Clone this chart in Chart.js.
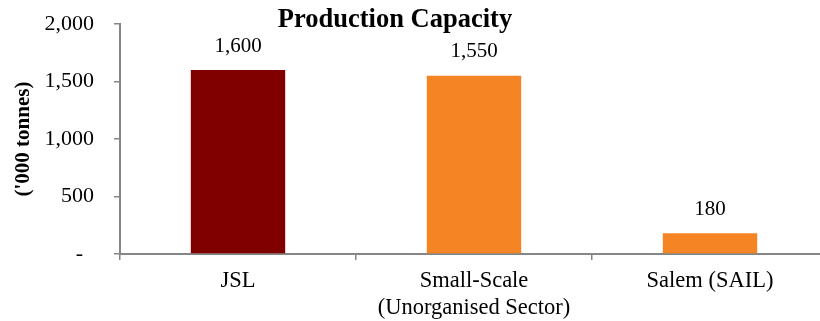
<!DOCTYPE html>
<html>
<head>
<meta charset="utf-8">
<script src="https://cdn.jsdelivr.net/npm/chart.js@4"></script>
<style>
  html, body { margin: 0; padding: 0; background: #fff; overflow: hidden; }
  #wrap { width: 830px; height: 321px; }
</style>
</head>
<body>
<div id="wrap"><canvas id="grafico" width="830" height="321"></canvas></div>
<script>
// Dados
const categorias = ['JSL', ['Small-Scale', '(Unorganised Sector)'], 'Salem (SAIL)'];
const capacidade = [1600, 1550, 180];
const coresBarras = ['#800000', '#F48424', '#F48424'];
const ticksY = [0, 500, 1000, 1500, 2000];

const FONTE = '"Liberation Serif", "DejaVu Serif", serif';
const CINZA = '#868686';

// Titulo desenhado por cima da area do grafico
const tituloPlugin = {
  id: 'tituloPlugin',
  afterDraw(chart) {
    const ctx = chart.ctx;
    ctx.save();
    ctx.font = 'bold 26.5px ' + FONTE;
    ctx.fillStyle = '#000';
    ctx.textAlign = 'center';
    ctx.textBaseline = 'middle';
    ctx.fillText('Production Capacity', 395, 20);
    ctx.restore();
  }
};

// Rotulos de valor acima das barras
const rotulosPlugin = {
  id: 'rotulosPlugin',
  afterDatasetsDraw(chart) {
    const ctx = chart.ctx;
    const meta = chart.getDatasetMeta(0);
    ctx.save();
    ctx.font = '21px ' + FONTE;
    ctx.fillStyle = '#000';
    ctx.textAlign = 'center';
    ctx.textBaseline = 'middle';
    meta.data.forEach((bar, i) => {
      ctx.fillText(capacidade[i].toLocaleString('en-US'), bar.x, bar.y - 24);
    });
    ctx.restore();
  }
};

new Chart(document.getElementById('grafico'), {
  type: 'bar',
  data: {
    labels: categorias,
    datasets: [{
      data: capacidade,
      backgroundColor: coresBarras,
      categoryPercentage: 1,
      barPercentage: 0.4
    }]
  },
  options: {
    responsive: false,
    animation: false,
    layout: { padding: { top: 24, right: 2, left: 0, bottom: 0 } },
    plugins: { legend: { display: false }, tooltip: { enabled: false } },
    scales: {
      x: {
        afterFit(scale) { scale.height = 67; scale.paddingLeft = 0; scale.paddingRight = 0; },
        grid: { drawOnChartArea: false, tickLength: 6, color: CINZA, lineWidth: 1.5 },
        border: { color: CINZA, width: 2 },
        ticks: { color: '#000', font: { family: FONTE, size: 22.5 }, padding: 8, maxRotation: 0, autoSkip: false }
      },
      y: {
        min: 0,
        max: 2000,
        afterFit(scale) { scale.width = 120; scale.paddingTop = 0; scale.paddingBottom = 0; },
        afterBuildTicks(scale) { scale.ticks = ticksY.map(v => ({ value: v })); },
        grid: { drawOnChartArea: false, tickLength: 6, color: CINZA, lineWidth: 1.5 },
        border: { color: CINZA, width: 2 },
        ticks: {
          color: '#000',
          font: { family: FONTE, size: 22 },
          padding: 20,
          callback: v => v === 0 ? '-  ' : v.toLocaleString('en-US')
        },
        title: {
          display: true,
          text: "('000 tonnes)",
          color: '#000',
          font: { family: FONTE, size: 21, weight: 'bold' },
          padding: { top: 11, bottom: 0 }
        }
      }
    }
  },
  plugins: [tituloPlugin, rotulosPlugin]
});
</script>
</body>
</html>
